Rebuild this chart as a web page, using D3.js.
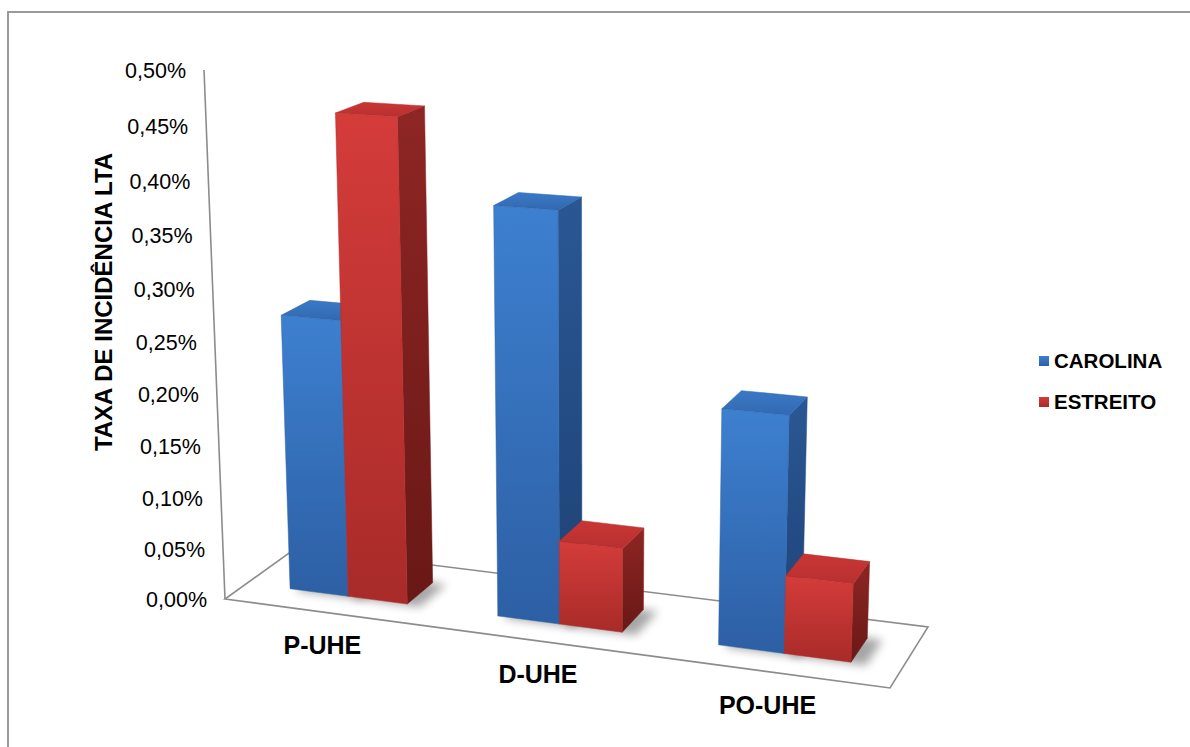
<!DOCTYPE html>
<meta charset="utf-8">
<style>
body { margin: 0; background: #fff; }
svg text { font-family: "Liberation Sans", Arial, sans-serif; fill: #000; }
.tick { font-size: 21.5px; }
.cat { font-size: 25px; font-weight: bold; }
.title { font-size: 24px; font-weight: bold; }
.leg { font-size: 20.5px; font-weight: bold; }
.frame { stroke: #8c8c8c; stroke-width: 1.6px; fill: none; }
</style>
<div id="chart"></div>
<script src="https://d3js.org/d3.v7.min.js"></script>
<script>

var width = 1190, height = 747;

// data
var categories = ["P-UHE", "D-UHE", "PO-UHE"];
var series = ["CAROLINA", "ESTREITO"];
var carolina = [0.00268, 0.00386, 0.0022];
var estreito = [0.0046, 0.0008, 0.00073];
var yTicks = [0, 0.0005, 0.001, 0.0015, 0.002, 0.0025, 0.003, 0.0035, 0.004, 0.0045, 0.005];

var values = [carolina, estreito];

var svg = d3.select("#chart").append("svg")
    .attr("width", width)
    .attr("height", height);

// outer border
svg.append("rect")
    .attr("x", 8).attr("y", 12)
    .attr("width", 1200).attr("height", 760)
    .attr("fill", "none").attr("stroke", "#9a9a9a").attr("stroke-width", 2);

// ---- 3d projection: floor quad (u across, w into depth) + vertical vanishing point
var floor = [[225, 599], [890, 688], [928, 627], [296, 548]];
var vp = [590, 9800];
var axisTop = [204, 70];

var hx = (function(p) {
  var x0 = p[0][0], y0 = p[0][1], x1 = p[1][0], y1 = p[1][1],
      x2 = p[2][0], y2 = p[2][1], x3 = p[3][0], y3 = p[3][1];
  var dx1 = x1 - x2, dx2 = x3 - x2, dx3 = x0 - x1 + x2 - x3;
  var dy1 = y1 - y2, dy2 = y3 - y2, dy3 = y0 - y1 + y2 - y3;
  var den = dx1 * dy2 - dx2 * dy1;
  var g = (dx3 * dy2 - dx2 * dy3) / den;
  var h = (dx1 * dy3 - dx3 * dy1) / den;
  return {a: x1 - x0 + g * x1, b: x3 - x0 + h * x3, c: x0,
          d: y1 - y0 + g * y1, e: y3 - y0 + h * y3, f: y0, g: g, h: h};
})(floor);
var k = (axisTop[1] - floor[0][1]) / (vp[1] - axisTop[1]);

function proj(u, w, z) {
  var X = hx.a * u + hx.b * w + hx.c + z * k * vp[0];
  var Y = hx.d * u + hx.e * w + hx.f + z * k * vp[1];
  var W = hx.g * u + hx.h * w + 1 + z * k;
  return [X / W, Y / W];
}

// scales
var x0 = d3.scaleBand().domain(categories).range([0, 1])
    .paddingInner(1.5 / 3.5).paddingOuter(0.75 / 3.5);
var x1 = d3.scaleBand().domain(series).range([0, x0.bandwidth()]);
var z = d3.scaleLinear().domain([0, 0.005]).range([0, 1]);
var depth = [0.3, 0.7];

var fmt = d3.formatLocale({decimal: ",", thousands: ".", grouping: [3], currency: ["R$", ""]}).format(".2%");

var defs = svg.append("defs");
function grad(id, c1, c2) {
  var gr = defs.append("linearGradient").attr("id", id)
      .attr("x1", 0).attr("y1", 0).attr("x2", 0).attr("y2", 1);
  gr.append("stop").attr("offset", "0%").attr("stop-color", c1);
  gr.append("stop").attr("offset", "100%").attr("stop-color", c2);
}
grad("bFront", "#3d80d0", "#2d5fa4");
grad("bSide", "#2a5794", "#1e4275");
grad("bTop", "#3a79c6", "#3269b0");
grad("rFront", "#d43c3a", "#a82b29");
grad("rSide", "#8e2624", "#691816");
grad("rTop", "#c93634", "#b83030");
defs.append("filter").attr("id", "blur")
    .attr("x", "-50%").attr("y", "-50%").attr("width", "200%").attr("height", "200%")
  .append("feGaussianBlur").attr("stdDeviation", 5);

var colors = {
  CAROLINA: {front: "url(#bFront)", side: "url(#bSide)", top: "url(#bTop)", edge: "#2f66ad"},
  ESTREITO: {front: "url(#rFront)", side: "url(#rSide)", top: "url(#rTop)", edge: "#b52f2d"}
};

function poly(pts) { return "M" + pts.map(function(p) { return p.join(","); }).join("L") + "Z"; }

// floor outline and value axis line
var g = svg.append("g");
g.append("path").attr("class", "frame")
    .attr("d", poly([proj(0, 0, 0), proj(1, 0, 0), proj(1, 1, 0), proj(0, 1, 0)]));
g.append("path").attr("class", "frame")
    .attr("d", "M" + proj(0, 0, 0) + "L" + proj(0, 0, 1));

// tick labels
g.selectAll(".tick").data(yTicks).enter().append("text")
    .attr("class", "tick")
    .attr("text-anchor", "end")
    .attr("x", function(d) { return proj(0, 0, z(d))[0] - 18; })
    .attr("y", function(d) { return proj(0, 0, z(d))[1] + 8; })
    .text(function(d) { return fmt(d); });

// bars data
var bars = [];
categories.forEach(function(c, i) {
  series.forEach(function(s, j) {
    bars.push({cat: c, ser: s, value: values[j][i]});
  });
});

// shadows
g.selectAll(".shadow").data(bars).enter().append("path")
    .attr("fill", "#000").attr("opacity", 0.35).attr("filter", "url(#blur)")
    .attr("d", function(d) {
      var u0 = x0(d.cat) + x1(d.ser) + 0.01, u1 = u0 + x1.bandwidth() + 0.012;
      return poly([proj(u0, depth[0] - 0.02, 0), proj(u1, depth[0] - 0.02, 0),
                   proj(u1, depth[1], 0), proj(u0, depth[1], 0)]);
    });

// bars
var bar = g.selectAll(".bar").data(bars).enter().append("g").attr("class", "bar");
bar.each(function(d) {
  var u0 = x0(d.cat) + x1(d.ser), u1 = u0 + x1.bandwidth();
  var w0 = depth[0], w1 = depth[1], h = z(d.value);
  var col = colors[d.ser];
  var sel = d3.select(this);
  sel.append("path").attr("fill", col.side).attr("stroke", col.side).attr("stroke-width", 0.5)
      .attr("d", poly([proj(u1, w0, 0), proj(u1, w1, 0), proj(u1, w1, h), proj(u1, w0, h)]));
  sel.append("path").attr("fill", col.top).attr("stroke", col.edge).attr("stroke-width", 0.5)
      .attr("d", poly([proj(u0, w0, h), proj(u1, w0, h), proj(u1, w1, h), proj(u0, w1, h)]));
  sel.append("path").attr("fill", col.front).attr("stroke", col.edge).attr("stroke-width", 0.5)
      .attr("d", poly([proj(u0, w0, 0), proj(u1, w0, 0), proj(u1, w0, h), proj(u0, w0, h)]));
});

// category labels
g.selectAll(".cat").data(categories).enter().append("text")
    .attr("class", "cat")
    .attr("text-anchor", "middle")
    .attr("x", function(d) { return proj(x0(d) + x0.bandwidth() / 2, -0.1, 0)[0] + 2; })
    .attr("y", function(d) { return proj(x0(d) + x0.bandwidth() / 2, -0.1, 0)[1] + 36; })
    .text(function(d) { return d; });

// axis title
svg.append("text")
    .attr("class", "title")
    .attr("text-anchor", "middle")
    .attr("transform", "translate(112,302) rotate(-90)")
    .text("TAXA DE INCIDÊNCIA LTA");

// legend
var leg = svg.selectAll(".legend").data(series).enter().append("g")
    .attr("transform", function(d, i) { return "translate(1039," + (356 + i * 41) + ")"; });
leg.append("rect").attr("width", 10).attr("height", 10)
    .attr("fill", function(d) { return colors[d].front; });
leg.append("text").attr("class", "leg")
    .attr("x", 15).attr("y", 12)
    .text(function(d) { return d; });

</script>
